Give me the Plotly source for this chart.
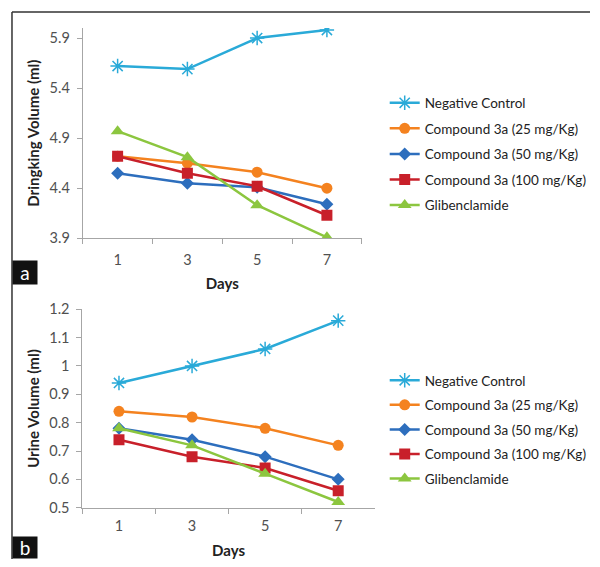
import plotly.graph_objects as go

days = ["1", "3", "5", "7"]
series_names = ["Negative Control", "Compound 3a (25 mg/Kg)", "Compound 3a (50 mg/Kg)",
                "Compound 3a (100 mg/Kg)", "Glibenclamide"]

drink_neg = [5.62, 5.59, 5.90, 5.98]
drink_25 = [4.72, 4.65, 4.56, 4.40]
drink_50 = [4.55, 4.45, 4.41, 4.24]
drink_100 = [4.72, 4.55, 4.42, 4.13]
drink_glib = [4.97, 4.71, 4.23, 3.91]

urine_neg = [0.94, 1.00, 1.06, 1.16]
urine_25 = [0.84, 0.82, 0.78, 0.72]
urine_50 = [0.78, 0.74, 0.68, 0.60]
urine_100 = [0.74, 0.68, 0.64, 0.56]
urine_glib = [0.78, 0.72, 0.62, 0.52]

drink_ticks = [3.9, 4.4, 4.9, 5.4, 5.9]
urine_ticks = [0.5, 0.6, 0.7, 0.8, 0.9, 1.0, 1.1, 1.2]
urine_ticktext = ["0.5", "0.6", "0.7", "0.8", "0.9", "1", "1.1", "1.2"]

colors = ["#2aaad8", "#f4821f", "#2d6ebd", "#c8202a", "#8cc63f"]
symbols = ["asterisk-open", "circle", "diamond", "square", "triangle-up"]
sizes = [12, 11, 10, 11, 12]

FONT = "Lato, Open Sans, Liberation Sans, sans-serif"

# page body has an 8px default margin; size the figure so the page is 600x567
OFF = 8
W, H = 600 - 2 * OFF, 567 - 2 * OFF
def px(x):
    return (x - OFF) / W
def py(y):
    return 1 - (y - OFF) / H

fig = go.Figure()

drink = [drink_neg, drink_25, drink_50, drink_100, drink_glib]
urine = [urine_neg, urine_25, urine_50, urine_100, urine_glib]

for i, name in enumerate(series_names):
    mk = dict(symbol=symbols[i], size=sizes[i], color=colors[i])
    if i == 0:
        mk["line"] = dict(color=colors[i], width=1.5)
    fig.add_trace(go.Scatter(x=days, y=drink[i], name=name, mode="lines+markers",
                             line=dict(color=colors[i], width=2.5), marker=mk,
                             xaxis="x", yaxis="y", legend="legend", legendgroup="a%d" % i))
for i, name in enumerate(series_names):
    mk = dict(symbol=symbols[i], size=sizes[i], color=colors[i])
    if i == 0:
        mk["line"] = dict(color=colors[i], width=1.5)
    fig.add_trace(go.Scatter(x=days, y=urine[i], name=name, mode="lines+markers",
                             line=dict(color=colors[i], width=2.5), marker=mk,
                             xaxis="x2", yaxis="y2", legend="legend2", legendgroup="b%d" % i))

axis_common = dict(showgrid=False, zeroline=False, showline=True, linecolor="#a6a6a6",
                   linewidth=1, ticks="outside", tickcolor="#a6a6a6", ticklen=5,
                   automargin=False,
                   tickfont=dict(family=FONT, size=14.5, color="#505050"))
title_font = dict(family=FONT, size=15, color="#222")

fig.update_layout(
    width=W, height=H,
    margin=dict(l=0, r=0, t=0, b=0),
    paper_bgcolor="white", plot_bgcolor="white",
    showlegend=True,
    font=dict(family=FONT),
    xaxis=dict(axis_common, type="category", domain=[px(83), px(363)], anchor="y",
               range=[-0.5, 3.5], tickson="boundaries", ticklabelstandoff=8,
               title=dict(text="<b>Days</b>", font=title_font, standoff=11)),
    yaxis=dict(axis_common, domain=[py(238.3), py(28)], anchor="x", range=[3.9, 6.0],
               tickvals=drink_ticks, ticktext=[f"{v:.1f}" for v in drink_ticks],
               ticklabelstandoff=4,
               title=dict(text="<b>Dringking Volume (ml)</b>", font=title_font, standoff=6)),
    xaxis2=dict(axis_common, type="category", domain=[px(82.7), px(376)], anchor="y2",
                range=[-0.5, 3.5], tickson="boundaries", ticklabelstandoff=5,
                title=dict(text="<b>Days</b>", font=title_font, standoff=12)),
    yaxis2=dict(axis_common, domain=[py(507.7), py(309.3)], anchor="x2", range=[0.5, 1.2],
                tickvals=urine_ticks, ticktext=urine_ticktext, ticklabelstandoff=4,
                title=dict(text="<b>Urine Volume (ml)</b>", font=title_font, standoff=6)),
    legend=dict(x=px(386), y=py(87.5), xanchor="left", yanchor="top", tracegroupgap=5,
                font=dict(family=FONT, size=13.5, color="#222"),
                bgcolor="rgba(0,0,0,0)", itemwidth=30),
    legend2=dict(x=px(386), y=py(365), xanchor="left", yanchor="top", tracegroupgap=4,
                 font=dict(family=FONT, size=13.5, color="#222"),
                 bgcolor="rgba(0,0,0,0)", itemwidth=30),
    shapes=[
        dict(type="line", xref="paper", yref="paper", x0=px(12), x1=1, y0=py(12), y1=py(12),
             line=dict(color="#333", width=1.5)),
        dict(type="line", xref="paper", yref="paper", x0=px(12), x1=px(12), y0=py(12), y1=0,
             line=dict(color="#333", width=1.5)),
    ],
    annotations=[
        dict(text="a", xref="paper", yref="paper", x=px(12), y=py(285), xanchor="left", yanchor="bottom",
             showarrow=False, bgcolor="#111", font=dict(family=FONT, color="white", size=19),
             width=22, height=21),
        dict(text="b", xref="paper", yref="paper", x=px(12), y=0, xanchor="left", yanchor="bottom",
             showarrow=False, bgcolor="#111", font=dict(family=FONT, color="white", size=19),
             width=22, height=19),
    ],
)

fig.write_html("out.html")
